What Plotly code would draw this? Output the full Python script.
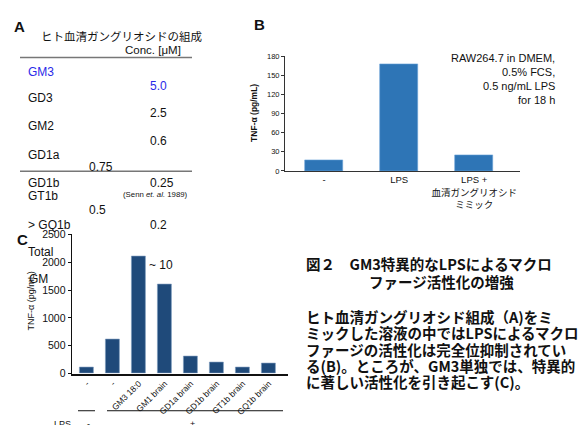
import plotly.graph_objects as go

W, H = 584, 425

# ---------------- data ----------------
b_categories = ["-", "LPS", "LPS +<br>血清ガングリオシド<br>ミミック"]
b_values = [17, 167, 25]
b_yticks = [0, 30, 60, 90, 120, 150, 180]

c_categories = ["-", "-", "GM3 18:0", "GM1 brain", "GD1a brain", "GD1b brain", "GT1b brain", "GQ1b brain"]
c_values = [105, 620, 2110, 1600, 315, 205, 105, 190]
c_yticks = [0, 500, 1000, 1500, 2000, 2500]

a_title = "ヒト血清ガングリオシドの組成"
a_header = "Conc. [μM]"
a_names = ["GM3", "GD3", "GM2", "GD1a", "GD1b", "GT1b", "> GQ1b", "Total", "GM"]
a_concs = ["5.0", "2.5", "0.6", "0.75", "0.25", "0.5", "0.2", "~ 10"]
a_ref = "(Senn <i>et. al.</i> 1989)"

b_note = ["RAW264.7 in DMEM,", "0.5% FCS,", "0.5 ng/mL LPS", "for 18 h"]
c_lps = ["LPS", "-", "+"]

fig_title = ["図２　GM3特異的なLPSによるマクロ", "ファージ活性化の増強"]
fig_body = ["ヒト血清ガングリオシド組成（A)をミ",
            "ミックした溶液の中ではLPSによるマクロ",
            "ファージの活性化は完全位抑制されてい",
            "る(B)。ところが、GM3単独では、特異的",
            "に著しい活性化を引き起こす(C)。"]

# ---------------- helpers ----------------
def px(x):
    return x / W

def py(y):
    return 1 - y / H

LAT = "Liberation Sans, Arial, Noto Sans CJK JP"
JP = "Noto Sans CJK JP, Noto Sans, sans-serif"

fig = go.Figure()

fig.add_trace(go.Bar(x=list(range(len(b_values))), y=b_values, xaxis="x", yaxis="y",
                     marker=dict(color="#2e75b6", line=dict(width=0.6, color="#6aa2d6")), width=0.51,
                     showlegend=False, hoverinfo="skip"))
fig.add_trace(go.Bar(x=list(range(len(c_values))), y=c_values, xaxis="x2", yaxis="y2",
                     marker=dict(color="#1f4a7a", line=dict(width=0.6, color="#7f9cc0")), width=0.565,
                     showlegend=False, hoverinfo="skip"))

ann = []
def add_text(text, x, y, size, color="#111", xanchor="left", yanchor="middle", family=LAT, angle=0):
    ann.append(dict(text=text, x=px(x), y=py(y), xref="paper", yref="paper",
                    xanchor=xanchor, yanchor=yanchor, showarrow=False, textangle=angle,
                    font=dict(size=size, color=color, family=family), borderpad=0))

# Panel labels
add_text("<b>A</b>", 13, 21, 15)
add_text("<b>B</b>", 253, 19, 15)
add_text("<b>C</b>", 16, 240, 15)

# Panel A table
add_text(a_title, 40, 31, 11.5, family=JP)
add_text(a_header, 124, 45, 11.5)
name_pos = [(27, 68), (27, 95), (27, 124), (27, 153), (27, 182), (27, 196), (27, 225), (27, 253), (28, 281)]
for i, (n, (x, y)) in enumerate(zip(a_names, name_pos)):
    add_text(n, x, y, 12, color="#2a2ae8" if i == 0 else "#111")
conc_pos = [(149, 82), (149, 110), (149, 139), (88, 166), (149, 182), (88, 210), (149, 225), (148, 267)]
for i, (v, (x, y)) in enumerate(zip(a_concs, conc_pos)):
    add_text(v, x, y, 12, color="#2a2ae8" if i == 0 else "#111")
add_text(a_ref, 122, 194, 7.8)

# Panel B note & axis title
for i, t in enumerate(b_note):
    add_text(t, 556, 54 + 14.4 * i, 11, xanchor="right")
add_text("<b>TNF-α (pg/mL)</b>", 254, 110, 8.5, xanchor="center", angle=-90)

# Panel C axis title and LPS row
add_text("TNF-α (pg/mL)", 31, 304, 9, xanchor="center", angle=-90)
add_text(c_lps[0], 53, 424, 9, yanchor="top")
add_text(c_lps[1], 86, 424, 9, yanchor="top")
add_text(c_lps[2], 189, 424, 9, yanchor="top")

# Right text
add_text("<b>" + fig_title[0] + "</b>", 305, 265, 14.5, family=JP)
add_text("<b>" + fig_title[1] + "</b>", 368, 283, 14.5, family=JP)
for i, t in enumerate(fig_body):
    add_text("<b>" + t + "</b>", 305, 320 + 16.5 * i, 14.5, family=JP)

shapes = [
    dict(type="line", xref="paper", yref="paper", x0=px(20), x1=px(192), y0=py(53), y1=py(53),
         line=dict(color="#777", width=1.5)),
    dict(type="line", xref="paper", yref="paper", x0=px(20), x1=px(192), y0=py(170), y1=py(170),
         line=dict(color="#777", width=1.5)),
    dict(type="line", xref="paper", yref="paper", x0=px(78), x1=px(95), y0=py(416.5), y1=py(416.5),
         line=dict(color="#111", width=1)),
    dict(type="line", xref="paper", yref="paper", x0=px(107), x1=px(283), y0=py(416.5), y1=py(416.5),
         line=dict(color="#111", width=1)),
]

fig.update_layout(
    width=W, height=H, margin=dict(l=0, r=0, t=0, b=0),
    paper_bgcolor="white", plot_bgcolor="white",
    font=dict(family=LAT, color="#111"),
    annotations=ann, shapes=shapes, bargap=0,
    xaxis=dict(domain=[px(285), px(520)], range=[-0.52, 2.61], anchor="y",
               tickvals=list(range(len(b_categories))), ticktext=b_categories,
               showline=True, linecolor="#333", linewidth=1, ticks="", showgrid=False, zeroline=False,
               tickfont=dict(size=9.5, family=LAT), fixedrange=True),
    yaxis=dict(domain=[py(169.7), py(51.7)], range=[0, 180], anchor="x",
               tickvals=b_yticks, showline=True, linecolor="#333", linewidth=1,
               ticks="outside", ticklen=3, tickcolor="#333", showgrid=False, zeroline=False,
               tickfont=dict(size=7.5, family=LAT)),
    xaxis2=dict(domain=[px(71.7), px(288)], range=[-0.58, 7.74], anchor="y2",
                tickvals=list(range(len(c_categories))), ticktext=c_categories, tickangle=-45,
                showline=True, linecolor="#111", linewidth=1.5, ticks="", showgrid=False, zeroline=False,
                tickfont=dict(size=8.5, family=LAT)),
    yaxis2=dict(domain=[py(378.3), py(235)], range=[0, 2500], anchor="x2",
                tickvals=c_yticks, showline=True, linecolor="#111", linewidth=1.2,
                ticks="outside", ticklen=3, tickcolor="#111", showgrid=False, zeroline=False,
                tickfont=dict(size=10.5, family=LAT)),
)

fig.write_html("out.html", config={"displayModeBar": False},
               post_script="document.body.style.margin='0';document.body.style.overflow='hidden';")
